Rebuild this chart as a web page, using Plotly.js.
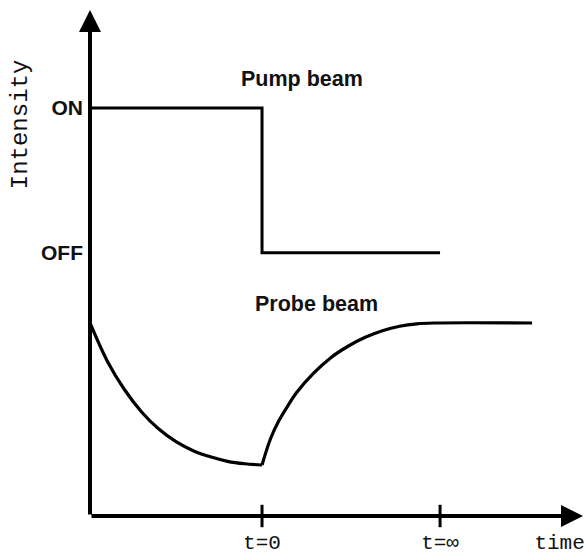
<!DOCTYPE html>
<html>
<head>
<meta charset="utf-8">
<script src="https://cdn.plot.ly/plotly-3.0.1.min.js"></script>
<style>html,body{margin:0;padding:0;background:#fff;}#chart{width:587px;height:554px;}</style>
</head>
<body>
<div id="chart"></div>
<script>
// Pump beam (square step)
const pumpX = [-1, 0, 0, 1.035];
const pumpY = [1, 1, 0.645, 0.645];

// Probe beam: decay while pump is ON
const probeDecayX = [-1, -0.9, -0.8, -0.7, -0.6, -0.5, -0.4, -0.3, -0.2, -0.1, 0];
const probeDecayY = [0.473, 0.38, 0.31, 0.255, 0.213, 0.182, 0.160, 0.145, 0.134, 0.128, 0.125];
// Probe beam: recovery after t=0
const probeRecX = [0, 0.05, 0.1, 0.15, 0.2, 0.3, 0.4, 0.5, 0.6, 0.7, 0.8, 0.9, 1.0, 1.57];
const probeRecY = [0.125, 0.19, 0.235, 0.27, 0.302, 0.350, 0.388, 0.416, 0.438, 0.454, 0.465, 0.471, 0.473, 0.473];

// Axis tick positions and labels
const xTickVals = [0, 1.035, 1.73];
const xTickText = ['t=0', 't=\u221e', 'time'];
const xTickMarks = [0, 1.035];
const yTickVals = [1, 0.645];
const yTickText = ['ON', 'OFF'];

const xRange = [-1, 1.866];
const yRange = [0, 1.24];

const lineStyle = {color: '#000', width: 3.2, shape: 'spline', smoothing: 1};
const traces = [
  {x: pumpX, y: pumpY, mode: 'lines', line: {color: '#000', width: 3, shape: 'linear'}, cliponaxis: false, hoverinfo: 'skip'},
  {x: probeDecayX, y: probeDecayY, mode: 'lines', line: lineStyle, cliponaxis: false, hoverinfo: 'skip'},
  {x: probeRecX, y: probeRecY, mode: 'lines', line: lineStyle, cliponaxis: false, hoverinfo: 'skip'},
  {x: xTickMarks, y: xTickMarks.map(() => 0), mode: 'markers',
   marker: {symbol: 'line-ns-open', size: 16, color: '#000', line: {color: '#000', width: 3}}, cliponaxis: false, hoverinfo: 'skip'}
];

const layout = {
  width: 587, height: 554,
  margin: {l: 90, r: 4, t: 10, b: 38, pad: 0},
  paper_bgcolor: '#fff', plot_bgcolor: '#fff',
  showlegend: false,
  xaxis: {
    range: xRange, showgrid: false, zeroline: false, showline: false,
    tickmode: 'array', tickvals: xTickVals, ticktext: xTickText, ticks: '',
    ticklabelstandoff: 11,
    tickfont: {family: 'Liberation Mono, Courier New, monospace', size: 21, color: '#111'}
  },
  yaxis: {
    range: yRange, showgrid: false, zeroline: false, showline: false,
    tickmode: 'array', tickvals: yTickVals, ticktext: yTickText, ticks: '',
    ticklabelstandoff: 6,
    tickfont: {family: 'Liberation Sans, Arial, sans-serif', size: 21, color: '#111', weight: 'bold'}
  },
  annotations: [
    {x: xRange[1], y: 0, ax: xRange[0], ay: 0, xref: 'x', yref: 'y', axref: 'x', ayref: 'y',
     text: '', showarrow: true, arrowhead: 2, arrowsize: 1.1, arrowwidth: 4, arrowcolor: '#000', standoff: 0},
    {x: xRange[0], y: yRange[1], ax: xRange[0], ay: 0, xref: 'x', yref: 'y', axref: 'x', ayref: 'y',
     text: '', showarrow: true, arrowhead: 2, arrowsize: 1.1, arrowwidth: 4, arrowcolor: '#000', standoff: 0},
    {x: 0.23, y: 1.07, xref: 'x', yref: 'y', text: '<b>Pump beam</b>', showarrow: false,
     font: {family: 'Liberation Sans, Arial, sans-serif', size: 21.5, color: '#111'}},
    {x: 0.315, y: 0.52, xref: 'x', yref: 'y', text: '<b>Probe beam</b>', showarrow: false,
     font: {family: 'Liberation Sans, Arial, sans-serif', size: 21.5, color: '#111'}},
    {x: (20 - 90) / (587 - 90 - 4), y: 0.96, xref: 'paper', yref: 'y', xanchor: 'center', text: 'Intensity',
     showarrow: false, textangle: -90,
     font: {family: 'Liberation Mono, Courier New, monospace', size: 24, color: '#111'}}
  ]
};

Plotly.newPlot('chart', traces, layout, {staticPlot: true, displayModeBar: false});
</script>
</body>
</html>
